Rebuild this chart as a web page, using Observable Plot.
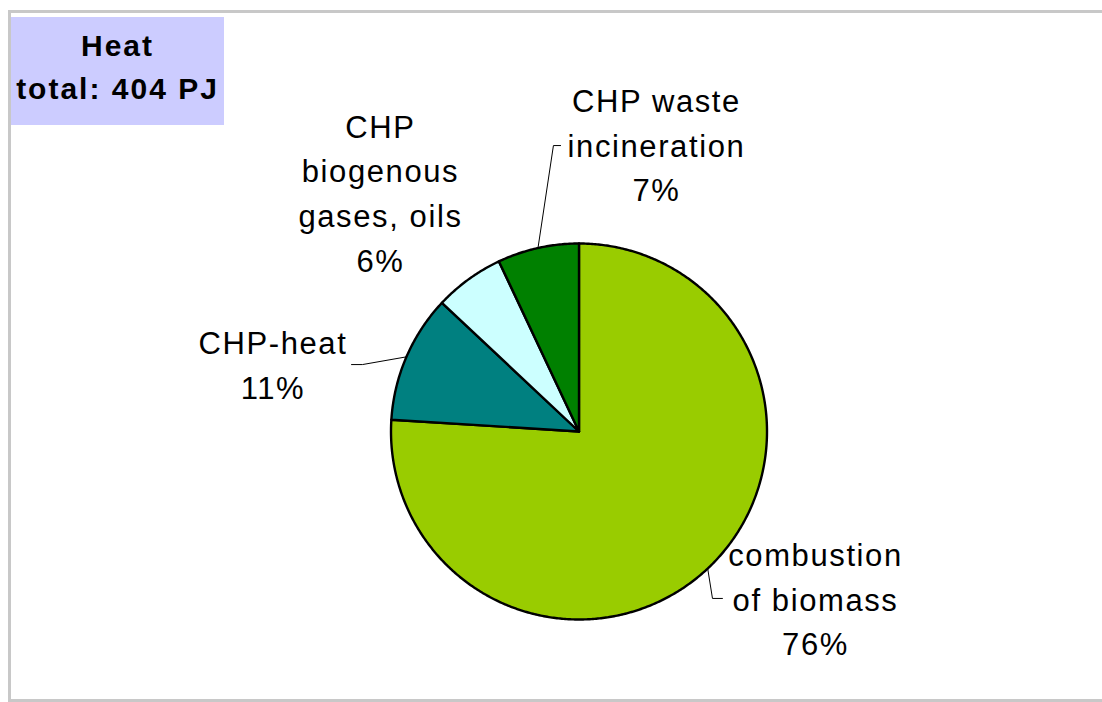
<!DOCTYPE html>
<html>
<head>
<meta charset="utf-8">
<script src="https://cdn.jsdelivr.net/npm/d3@7"></script>
<script src="https://cdn.jsdelivr.net/npm/@observablehq/plot@0.6"></script>
<style>
  html, body { margin: 0; padding: 0; background: #fff; }
  #wrap { position: relative; width: 1102px; height: 702px; overflow: hidden;
          font-family: "Liberation Sans", Arial, sans-serif; }
  #chart { position: absolute; left: 0; top: 0; }
  #chart svg { display: block; background: transparent; }
  #chart g[aria-label="text"] text { letter-spacing: 1.6px; }
  #frame { position: absolute; left: 8px; top: 10px; width: 1200px; height: 692px;
           border: 3px solid #c8c8c8; box-sizing: border-box; }
  #title { position: absolute; left: 11px; top: 17px; width: 213px; height: 108px;
           background: #ccccff; box-sizing: border-box; padding-top: 7px;
           text-align: center; font-weight: bold; font-size: 30px; line-height: 43px;
           letter-spacing: 2px; color: #000; }
</style>
</head>
<body>
<div id="wrap">
  <div id="chart"></div>
  <div id="frame"></div>
  <div id="title"></div>
</div>
<script>
// ---- data ----
const categories = ["combustion of biomass", "CHP-heat", "CHP biogenous gases, oils", "CHP waste incineration"];
const shares = [76, 11, 6, 7]; // percent of total heat
const labelLines = [["combustion", "of biomass"], ["CHP-heat"], ["CHP", "biogenous", "gases, oils"], ["CHP waste", "incineration"]];
const colors = ["#99CC00", "#008080", "#CCFFFF", "#008000"];
const totalPJ = 404;
const titleText = "Heat";

// ---- layout (in pie-radius units, relative to pie centre) ----
const labelAnchors = [[1.258, -0.878], [-1.628, 0.367], [-1.056, 1.282], [0.412, 1.537]];
const leaderElbows = [[[0.710, -0.888], [0.763, -0.888]], [[-1.152, 0.356], [-1.210, 0.356]], null, [[-0.136, 1.521], [-0.098, 1.521]]];

// ---- geometry from data ----
const arcs = d3.pie().sort(null).value(d => d)(shares);
const slicePts = arcs.flatMap((a, i) => {
  const k = categories[i];
  const pts = [{k, x: 0, y: 0}];
  const n = Math.max(2, Math.ceil((a.endAngle - a.startAngle) / (Math.PI / 360)));
  for (let j = 0; j <= n; j++) {
    const t = a.startAngle + (a.endAngle - a.startAngle) * j / n;
    pts.push({k, x: Math.sin(t), y: Math.cos(t)});
  }
  return pts;
});

const leaderPts = arcs.flatMap((a, i) => {
  if (!leaderElbows[i]) return [];
  const k = categories[i];
  const m = (a.startAngle + a.endAngle) / 2;
  return [{k, x: Math.sin(m), y: Math.cos(m)},
          ...leaderElbows[i].map(([x, y]) => ({k, x, y}))];
});

const labels = categories.map((k, i) => ({
  k,
  x: labelAnchors[i][0],
  y: labelAnchors[i][1],
  text: [...labelLines[i], shares[i] + "%"].join("\n")
}));

const chart = Plot.plot({
  width: 1102,
  height: 702,
  margin: 0,
  x: {domain: [-1, 1], range: [390.5, 766.5], axis: null},
  y: {domain: [-1, 1], range: [619, 243], axis: null},
  color: {domain: categories, range: colors},
  style: {background: "transparent", fontFamily: "'Liberation Sans', Arial, sans-serif"},
  marks: [
    Plot.line(slicePts, {x: "x", y: "y", z: "k", fill: "k", stroke: "black", strokeWidth: 2.4,
                         curve: "linear-closed", strokeLinejoin: "round"}),
    Plot.line(leaderPts, {x: "x", y: "y", z: "k", stroke: "black", strokeWidth: 1}),
    Plot.text(labels, {x: "x", y: "y", text: "text", fontSize: 31, lineHeight: 1.44,
                       textAnchor: "middle", fill: "black"})
  ]
});
document.getElementById("chart").append(chart);
document.getElementById("title").innerHTML = titleText + "<br>total: " + totalPJ + " PJ";
</script>
</body>
</html>
